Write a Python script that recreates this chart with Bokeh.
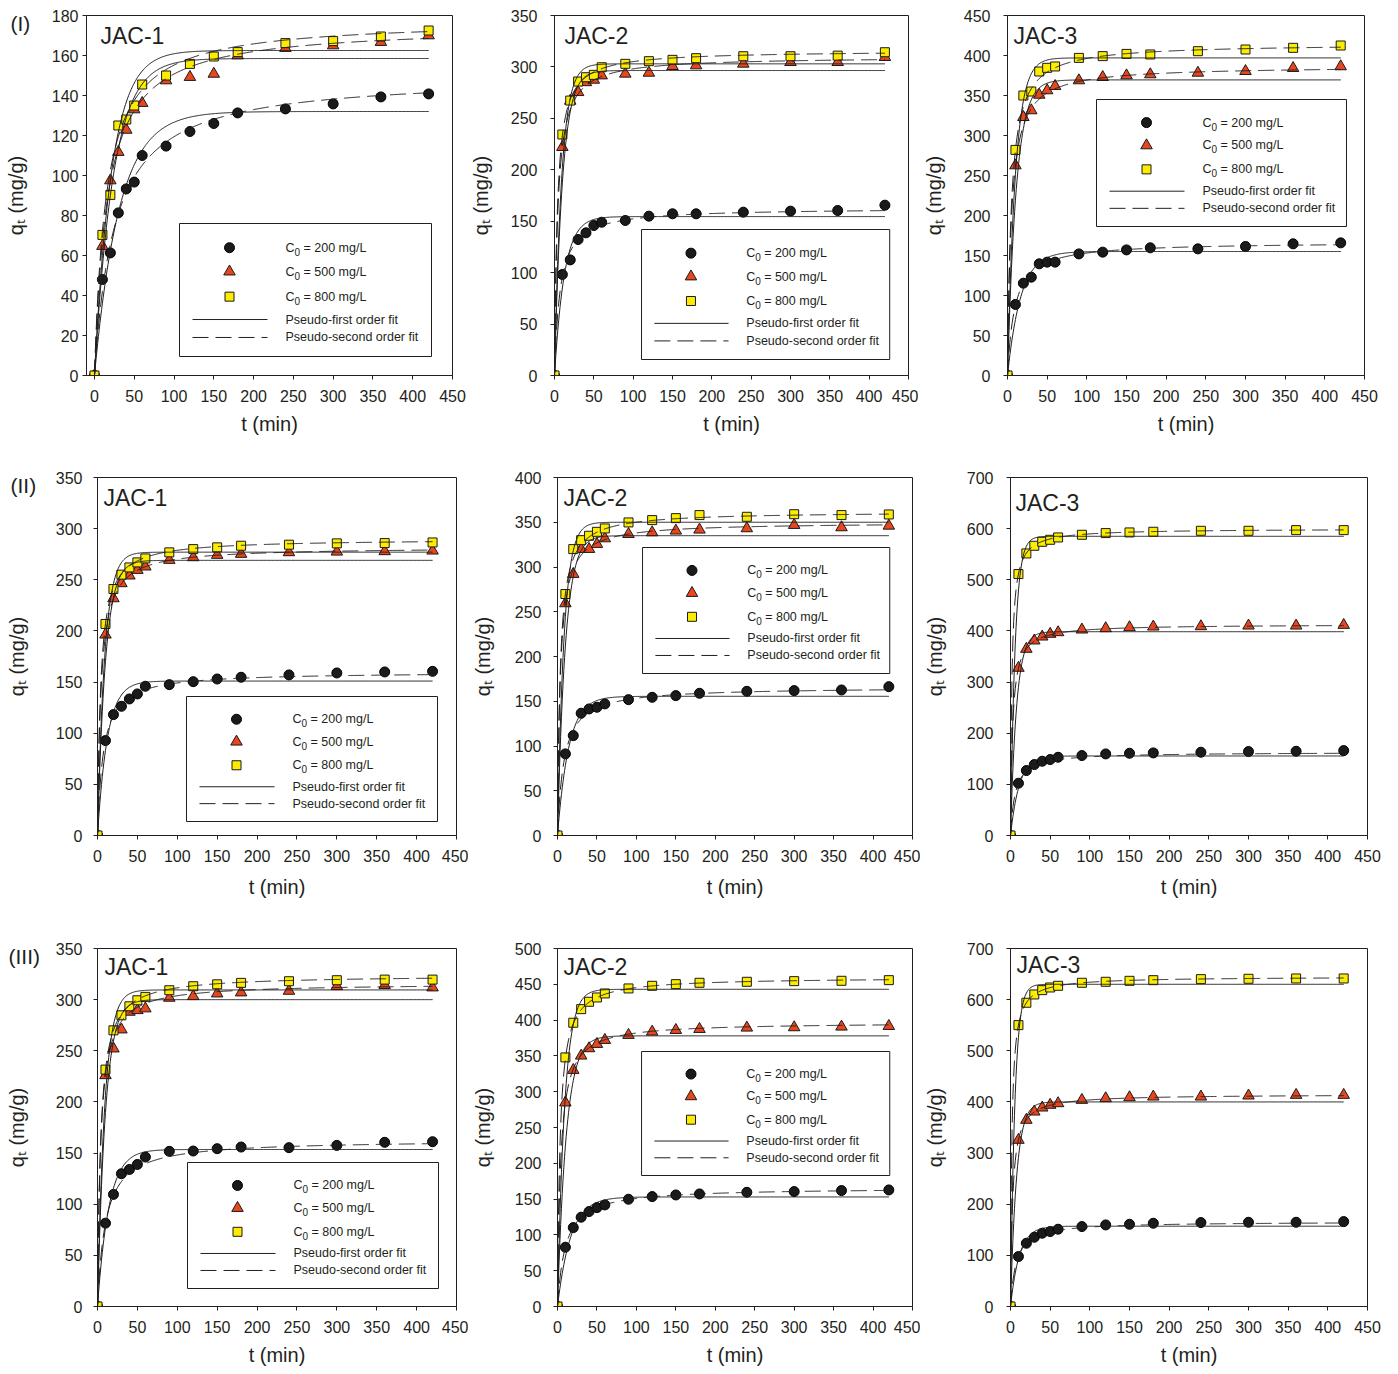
import numpy as np
from bokeh.plotting import figure
from bokeh.models import Range1d, FixedTicker, Label, Title
from bokeh.layouts import column, row
from bokeh.embed import file_html
from bokeh.resources import INLINE

FONT = "Liberation Sans"
INK = "#231f20"

# ---------------- data ----------------
t_min = [0, 10, 20, 30, 40, 50, 60, 90, 120, 150, 180, 240, 300, 360, 420]
x_ticks = [0, 50, 100, 150, 200, 250, 300, 350, 400, 450]
conc_labels = ["200", "500", "800"]
fit_labels = ["Pseudo-first order fit", "Pseudo-second order fit"]
x_label = "t (min)"
y_label = "q\u209c (mg/g)"

# (I)
qt_I_JAC1_c200 = [0, 48, 61.3, 81.3, 93.3, 96.7, 110, 114.7, 122, 126, 131.3, 133.3, 135.8, 139.3, 140.8]
qt_I_JAC1_c500 = [0, 64.7, 97.5, 111.7, 122.8, 133, 136.2, 147.5, 149.2, 150.8, 160, 163.7, 165, 166.7, 170]
qt_I_JAC1_c800 = [0, 70.3, 90.3, 125, 128, 135, 145.5, 150, 155.8, 159.5, 161.7, 166.2, 167.2, 169.5, 172.5]
pfo_qe_I_JAC1 = [132, 158.5, 162.5]
pfo_k1_I_JAC1 = [0.032, 0.042, 0.046]
pso_qe_I_JAC1 = [150, 175, 178]
pso_k2_I_JAC1 = [2.6e-4, 3.55e-4, 3.82e-4]
yticks_I_JAC1 = [0, 20, 40, 60, 80, 100, 120, 140, 160, 180]

qt_I_JAC2_c200 = [0, 98.2, 112.4, 132.2, 138.7, 145.8, 149, 150.7, 154.9, 157.2, 157.2, 158.8, 159.8, 160.4, 165.6]
qt_I_JAC2_c500 = [0, 222, 267, 275.4, 285, 287.4, 291.6, 293.3, 294.2, 300.7, 301.4, 303, 304.6, 304.6, 309.5]
qt_I_JAC2_c800 = [0, 234.3, 267.3, 285.8, 290, 292.3, 299.7, 303, 305.6, 306.9, 308.5, 310.4, 310.4, 311, 314.3]
pfo_qe_I_JAC2 = [154.5, 296.5, 303]
pfo_k1_I_JAC2 = [0.08, 0.1, 0.11]
pso_qe_I_JAC2 = [163, 310, 316]
pso_k2_I_JAC2 = [8.7e-4, 8.1e-4, 8.9e-4]
yticks_I_JAC2 = [0, 50, 100, 150, 200, 250, 300, 350]

qt_I_JAC3_c200 = [0, 88.8, 115.4, 122.9, 139.6, 141.7, 141.7, 152, 154.2, 157, 159.6, 158.3, 161.3, 164.6, 165.8]
qt_I_JAC3_c500 = [0, 262.5, 322.9, 331.3, 350.8, 356.3, 361.7, 368.8, 372.9, 375, 376.3, 378.3, 380.4, 384.2, 386.3]
qt_I_JAC3_c800 = [0, 282, 350, 355, 380, 384.6, 386.3, 397, 399.2, 402, 401.3, 405.4, 407.5, 409.6, 412.5]
pfo_qe_I_JAC3 = [155, 369.5, 397]
pfo_k1_I_JAC3 = [0.06, 0.09, 0.1]
pso_qe_I_JAC3 = [167, 387, 415]
pso_k2_I_JAC3 = [6.6e-4, 5.4e-4, 5.1e-4]
yticks_I_JAC3 = [0, 50, 100, 150, 200, 250, 300, 350, 400, 450]

# (II)
qt_II_JAC1_c200 = [0, 92.8, 118.2, 126.3, 133.5, 138.4, 145.9, 147.5, 150.4, 153, 154.7, 157, 158.9, 159.9, 160.5]
qt_II_JAC1_c500 = [0, 196.3, 231.8, 246.5, 254, 259.5, 262.8, 269.3, 271.9, 274.2, 275.2, 276.8, 277.4, 277.8, 278.4]
qt_II_JAC1_c800 = [0, 206.8, 241, 255, 262.1, 267, 270.9, 276.8, 280, 281.7, 283.3, 284.3, 285.6, 285.9, 286.5]
pfo_qe_II_JAC1 = [151, 269, 277]
pfo_k1_II_JAC1 = [0.08, 0.1, 0.11]
pso_qe_II_JAC1 = [160, 282, 290]
pso_k2_II_JAC1 = [8.6e-4, 8.1e-4, 8.6e-4]
yticks_II_JAC1 = [0, 50, 100, 150, 200, 250, 300, 350]

qt_II_JAC2_c200 = [0, 91.2, 111.6, 136.6, 141.4, 143.3, 147, 151.8, 154.4, 156.3, 158.9, 161.1, 161.9, 162.6, 166.3]
qt_II_JAC2_c500 = [0, 259.3, 292.1, 320, 320, 325.6, 331.9, 336.7, 338.6, 340.5, 341.6, 343.1, 346.8, 344.2, 346]
qt_II_JAC2_c800 = [0, 269.8, 320, 330, 334.9, 339.3, 343.1, 349.8, 352.4, 354.6, 358, 356.1, 359, 358, 358.7]
pfo_qe_II_JAC2 = [155.5, 335, 350]
pfo_k1_II_JAC2 = [0.07, 0.1, 0.12]
pso_qe_II_JAC2 = [166, 350, 362]
pso_k2_II_JAC2 = [7.3e-4, 8.1e-4, 8.1e-4]
yticks_II_JAC2 = [0, 50, 100, 150, 200, 250, 300, 350, 400]

qt_II_JAC3_c200 = [0, 102.2, 127, 138.7, 145.2, 148.5, 153, 156.3, 159.5, 160.8, 161.5, 162.8, 164.1, 164.7, 166]
qt_II_JAC3_c500 = [0, 327.5, 364.7, 381, 388.7, 394, 397.2, 402.4, 405, 407, 408.3, 408.9, 410.2, 410.2, 411.5]
qt_II_JAC3_c800 = [0, 511.2, 551.5, 566.5, 574.3, 578.2, 582.8, 588, 591.3, 592.6, 593.9, 595.8, 595.8, 597.1, 597.1]
pfo_qe_II_JAC3 = [155.5, 398.5, 585]
pfo_k1_II_JAC3 = [0.09, 0.13, 0.17]
pso_qe_II_JAC3 = [163, 413, 600]
pso_k2_II_JAC3 = [1.03e-3, 9.2e-4, 9.6e-4]
yticks_II_JAC3 = [0, 100, 200, 300, 400, 500, 600, 700]

# (III)
qt_III_JAC1_c200 = [0, 81.5, 109.6, 129.8, 134, 138.9, 146.1, 151.7, 152, 154.3, 155.9, 155.3, 157.5, 160.5, 161.1]
qt_III_JAC1_c500 = [0, 226, 252.1, 270.7, 288, 289.6, 291.3, 301.7, 303.3, 305.9, 306.9, 308.5, 313.1, 314.1, 311.8]
qt_III_JAC1_c800 = [0, 231.6, 270, 284.7, 293.5, 299.4, 302.7, 309.2, 313.1, 315, 316.4, 318, 319, 319.6, 319.6]
pfo_qe_III_JAC1 = [153.5, 300, 309.5]
pfo_k1_III_JAC1 = [0.07, 0.1, 0.11]
pso_qe_III_JAC1 = [163, 316, 324]
pso_k2_III_JAC1 = [6.1e-4, 7.9e-4, 7.7e-4]
yticks_III_JAC1 = [0, 50, 100, 150, 200, 250, 300, 350]

qt_III_JAC2_c200 = [0, 82.8, 110.2, 124.7, 132.6, 138.1, 141.9, 149.8, 153.5, 155.8, 157.2, 159.5, 160.5, 161.9, 162.8]
qt_III_JAC2_c500 = [0, 284.7, 330.2, 350.2, 360.5, 366.5, 372.1, 379.1, 383.7, 386, 387.4, 389.3, 389.8, 390.7, 391.6]
qt_III_JAC2_c800 = [0, 347.9, 396.3, 415.3, 425.6, 431.6, 437.2, 444.2, 447.9, 450.2, 452.1, 453.5, 454.4, 454.9, 455.8]
pfo_qe_III_JAC2 = [153, 378, 443]
pfo_k1_III_JAC2 = [0.06, 0.09, 0.11]
pso_qe_III_JAC2 = [166, 397, 460]
pso_k2_III_JAC2 = [6.0e-4, 6.4e-4, 6.6e-4]
yticks_III_JAC2 = [0, 50, 100, 150, 200, 250, 300, 350, 400, 450, 500]

qt_III_JAC3_c200 = [0, 97.7, 123.7, 135.4, 143.3, 146.5, 151.1, 156.3, 159.5, 160.8, 162.8, 164.1, 164.7, 164.7, 166]
qt_III_JAC3_c500 = [0, 325.6, 364.7, 380.9, 388.7, 394, 397.2, 403.7, 407, 408.9, 410.2, 410.2, 412.2, 413.5, 413.5]
qt_III_JAC3_c800 = [0, 550.2, 593.9, 610.1, 618.6, 623.8, 627.1, 633, 634.9, 636.8, 638.1, 640.1, 640.8, 641.4, 641.4]
pfo_qe_III_JAC3 = [157, 400, 630]
pfo_k1_III_JAC3 = [0.09, 0.13, 0.18]
pso_qe_III_JAC3 = [166, 415, 645]
pso_k2_III_JAC3 = [8.7e-4, 8.8e-4, 9.0e-4]
yticks_III_JAC3 = [0, 100, 200, 300, 400, 500, 600, 700]

# ---------------- layout specs (pixels) ----------------
R1 = dict(h=462, bt=15, bb=87, xals=8)
R2 = dict(h=468, bt=15, bb=95, xals=11)
R3 = dict(h=442, bt=18, bb=66, xals=8)

panels = [
    [
        dict(R1, tag="JAC-1", q=[qt_I_JAC1_c200, qt_I_JAC1_c500, qt_I_JAC1_c800],
             pfo=(pfo_qe_I_JAC1, pfo_k1_I_JAC1), pso=(pso_qe_I_JAC1, pso_k2_I_JAC1), yt=yticks_I_JAC1,
             xmin=-10, w=466, bl=86, br=14, yls=4, yals=22,
             leg=(93, 208, 252, 133), jac=(14, 20), rowlab=("(I)", -76)),
        dict(R1, tag="JAC-2", q=[qt_I_JAC2_c200, qt_I_JAC2_c500, qt_I_JAC2_c800],
             pfo=(pfo_qe_I_JAC2, pfo_k1_I_JAC2), pso=(pso_qe_I_JAC2, pso_k2_I_JAC2), yt=yticks_I_JAC2,
             xmin=0, w=452, bl=84, br=10, yls=13, yals=16,
             leg=(88, 214, 251, 130), jac=(10, 20), rowlab=None),
        dict(R1, tag="JAC-3", q=[qt_I_JAC3_c200, qt_I_JAC3_c500, qt_I_JAC3_c800],
             pfo=(pfo_qe_I_JAC3, pfo_k1_I_JAC3), pso=(pso_qe_I_JAC3, pso_k2_I_JAC3), yt=yticks_I_JAC3,
             xmin=0, w=476, bl=89, br=30, yls=13, yals=16,
             leg=(89, 84, 250, 127), jac=(6, 20), rowlab=None),
    ],
    [
        dict(R2, tag="JAC-1", q=[qt_II_JAC1_c200, qt_II_JAC1_c500, qt_II_JAC1_c800],
             pfo=(pfo_qe_II_JAC1, pfo_k1_II_JAC1), pso=(pso_qe_II_JAC1, pso_k2_II_JAC1), yt=yticks_II_JAC1,
             xmin=0, w=468, bl=97, br=12, yls=11, yals=25,
             leg=(89, 219, 251, 125), jac=(6, 20), rowlab=("(II)", -87)),
        dict(R2, tag="JAC-2", q=[qt_II_JAC2_c200, qt_II_JAC2_c500, qt_II_JAC2_c800],
             pfo=(pfo_qe_II_JAC2, pfo_k1_II_JAC2), pso=(pso_qe_II_JAC2, pso_k2_II_JAC2), yt=yticks_II_JAC2,
             xmin=0, w=452, bl=85, br=8, yls=12, yals=18,
             leg=(86, 70, 250, 126), jac=(6, 20), rowlab=None),
        dict(R2, tag="JAC-3", q=[qt_II_JAC3_c200, qt_II_JAC3_c500, qt_II_JAC3_c800],
             pfo=(pfo_qe_II_JAC3, pfo_k1_II_JAC3), pso=(pso_qe_II_JAC3, pso_k2_II_JAC3), yt=yticks_II_JAC3,
             xmin=0, w=474, bl=89, br=27, yls=13, yals=18,
             leg=None, jac=(5, 25), rowlab=None),
    ],
    [
        dict(R3, tag="JAC-1", q=[qt_III_JAC1_c200, qt_III_JAC1_c500, qt_III_JAC1_c800],
             pfo=(pfo_qe_III_JAC1, pfo_k1_III_JAC1), pso=(pso_qe_III_JAC1, pso_k2_III_JAC1), yt=yticks_III_JAC1,
             xmin=0, w=468, bl=97, br=12, yls=11, yals=25,
             leg=(90, 214, 251, 126), jac=(7, 18), rowlab=("(III)", -89)),
        dict(R3, tag="JAC-2", q=[qt_III_JAC2_c200, qt_III_JAC2_c500, qt_III_JAC2_c800],
             pfo=(pfo_qe_III_JAC2, pfo_k1_III_JAC2), pso=(pso_qe_III_JAC2, pso_k2_III_JAC2), yt=yticks_III_JAC2,
             xmin=0, w=452, bl=85, br=8, yls=12, yals=18,
             leg=(85, 103, 251, 124), jac=(6, 18), rowlab=None),
        dict(R3, tag="JAC-3", q=[qt_III_JAC3_c200, qt_III_JAC3_c500, qt_III_JAC3_c800],
             pfo=(pfo_qe_III_JAC3, pfo_k1_III_JAC3), pso=(pso_qe_III_JAC3, pso_k2_III_JAC3), yt=yticks_III_JAC3,
             xmin=0, w=474, bl=89, br=27, yls=13, yals=18,
             leg=None, jac=(6, 16), rowlab=None),
    ],
]

MARKERS = [
    dict(marker="circle", size=10, fill_color="#1a1a1a", line_color="#000000"),
    dict(marker="triangle", size=11.5, fill_color="#e8471e", line_color="#1a1a1a"),
    dict(marker="square", size=9, fill_color="#fcec00", line_color="#1a1a1a"),
]
DASH = "16 7"


def lab(p, x, y, text, size="16px", align="left", base="middle"):
    p.add_layout(Label(x=x, y=y, text=text, text_font=FONT, text_font_size=size, text_color=INK,
                       text_align=align, text_baseline=base))


def make_panel(s):
    fw = s["w"] - s["bl"] - s["br"]
    fh = s["h"] - s["bt"] - s["bb"]
    x0, x1 = s["xmin"], x_ticks[-1]
    y0, y1 = s["yt"][0], s["yt"][-1]

    def X(px):
        return x0 + px * (x1 - x0) / fw

    def Y(py):
        return y1 - py * (y1 - y0) / fh

    p = figure(width=s["w"], height=s["h"], x_range=Range1d(x0, x1), y_range=Range1d(y0, y1),
               toolbar_location=None, output_backend="svg", title=None,
               min_border_left=s["bl"], min_border_right=s["br"],
               min_border_top=s["bt"], min_border_bottom=s["bb"])
    p.background_fill_color = "white"
    p.border_fill_color = "white"
    p.outline_line_color = INK
    p.outline_line_width = 1
    p.xgrid.visible = False
    p.ygrid.visible = False

    for ax, ticks in ((p.xaxis, x_ticks), (p.yaxis, s["yt"])):
        ax.ticker = FixedTicker(ticks=ticks)
        ax.minor_tick_line_color = None
        ax.major_tick_in = 0
        ax.major_tick_out = 4
        ax.major_tick_line_color = INK
        ax.axis_line_color = INK
        ax.major_label_text_font = FONT
        ax.major_label_text_font_size = "16px"
        ax.major_label_text_color = INK
        ax.axis_label_text_font = FONT
        ax.axis_label_text_font_size = "20px"
        ax.axis_label_text_font_style = "normal"
        ax.axis_label_text_color = INK
    p.xaxis.axis_label = x_label
    p.xaxis.major_label_standoff = 10
    p.xaxis.axis_label_standoff = s["xals"]
    p.yaxis.axis_label = y_label
    p.yaxis.major_label_standoff = s["yls"]
    p.yaxis.axis_label_standoff = s["yals"]

    # data points
    for qv, st in zip(s["q"], MARKERS):
        p.scatter(t_min, qv, line_width=1, **st)

    # fit curves (kinetic models with the parameters)
    t_fit = np.linspace(0, t_min[-1], 421)
    for qe, k1 in zip(*s["pfo"]):
        p.line(t_fit, qe * (1 - np.exp(-k1 * t_fit)), line_color=INK, line_width=1)
    for qe, k2 in zip(*s["pso"]):
        p.line(t_fit, qe * qe * k2 * t_fit / (1 + qe * k2 * t_fit), line_color=INK,
               line_width=1, line_dash=DASH)

    # panel tag
    lab(p, X(s["jac"][0]), Y(s["jac"][1]), s["tag"], size="23px")

    # legend
    if s["leg"]:
        lx, ly, lw, lh = s["leg"]
        p.quad(left=[X(lx)], right=[X(lx + lw)], top=[Y(ly)], bottom=[Y(ly + lh)],
               fill_color="white", line_color=INK, line_width=1)
        fr = [0.182, 0.362, 0.550, 0.722, 0.857]
        for i, st in enumerate(MARKERS):
            yy = ly + fr[i] * lh
            p.scatter([X(lx + 50)], [Y(yy)], line_width=1, **st)
            lab(p, X(lx + 106), Y(yy), "C", size="12.5px")
            lab(p, X(lx + 115), Y(yy + 4), "0", size="10px")
            lab(p, X(lx + 124), Y(yy), "= " + conc_labels[i] + " mg/L", size="12.5px")
        for j, dash in enumerate(("solid", DASH)):
            yy = ly + fr[3 + j] * lh
            p.line([X(lx + 13), X(lx + 88)], [Y(yy), Y(yy)], line_color=INK, line_width=1, line_dash=dash)
            lab(p, X(lx + 106), Y(yy), fit_labels[j], size="12.5px")

    # row label, e.g. "(I)", drawn at the upper left outside the frame
    if s["rowlab"]:
        txt, off = s["rowlab"]
        p.add_layout(Title(text=txt, align="left", offset=off, vertical_align="bottom", standoff=-38,
                           text_font=FONT, text_font_size="21px", text_font_style="normal",
                           text_color=INK), "above")
    return p


layout = column([row([make_panel(s) for s in r], spacing=0) for r in panels], spacing=0)
open("out.html", "w").write(file_html(layout, INLINE))
